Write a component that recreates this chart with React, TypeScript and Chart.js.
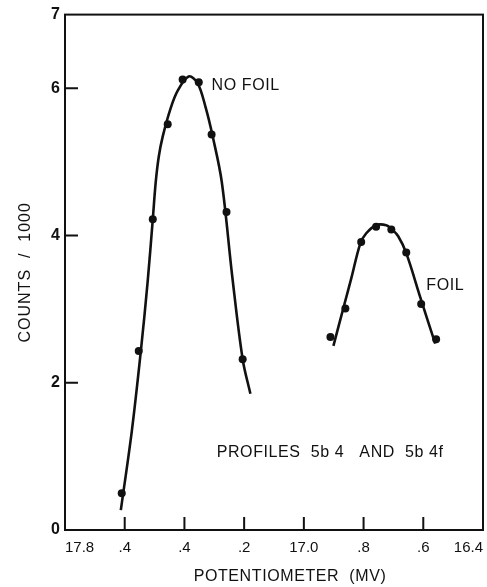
import React, { useEffect, useRef } from "react";
import { Chart, registerables } from "chart.js";

Chart.register(...registerables);

// Measured points (potentiometer mV, counts/1000)
const NO_FOIL_X = [17.61, 17.553, 17.506, 17.456, 17.406, 17.352, 17.309, 17.259, 17.205];
const NO_FOIL_Y = [0.5, 2.43, 4.22, 5.51, 6.12, 6.08, 5.37, 4.32, 2.32];
const FOIL_X = [16.911, 16.861, 16.808, 16.758, 16.707, 16.657, 16.607, 16.557];
const FOIL_Y = [2.62, 3.01, 3.91, 4.12, 4.08, 3.77, 3.07, 2.59];

// Hand-drawn fitted curves
const NO_FOIL_CURVE_X = [17.613, 17.576, 17.546, 17.523, 17.506, 17.496, 17.486, 17.473, 17.446, 17.422, 17.386, 17.356, 17.329, 17.305, 17.275, 17.24, 17.205, 17.179];
const NO_FOIL_CURVE_Y = [0.27, 1.35, 2.43, 3.38, 4.22, 4.73, 5.07, 5.34, 5.73, 5.97, 6.16, 6.07, 5.74, 5.34, 4.73, 3.45, 2.32, 1.85];
const FOIL_CURVE_X = [16.901, 16.864, 16.841, 16.811, 16.791, 16.758, 16.724, 16.707, 16.684, 16.657, 16.61, 16.56];
const FOIL_CURVE_Y = [2.5, 3.07, 3.42, 3.89, 4.03, 4.14, 4.14, 4.09, 3.99, 3.76, 3.16, 2.53];

// Axes
const X_TICK_VALUES = [17.8, 17.6, 17.4, 17.2, 17.0, 16.8, 16.6, 16.4];
const X_TICK_LABELS = ["17.8", ".4", ".4", ".2", "17.0", ".8", ".6", "16.4"];
const X_INNER_MARKS = [17.6, 17.4, 17.2, 17.0, 16.8, 16.6];
const Y_TICK_VALUES = [0, 2, 4, 6, 7];
const Y_TICK_LABELS = ["0", "2", "4", "6", "7"];
const Y_INNER_MARKS = [2, 4, 6];

const X_TITLE = "POTENTIOMETER  (MV)";
const Y_TITLE = "COUNTS  /  1000";
const LABEL_NO_FOIL = "NO FOIL";
const LABEL_FOIL = "FOIL";
const LABEL_PROFILES = "PROFILES  5b 4   AND  5b 4f";

const FONT = "'Liberation Sans', Arial, sans-serif";
const INK = "#111";

const zip = (xs: number[], ys: number[]) => xs.map((x, i) => ({ x, y: ys[i] }));

const decorPlugin = {
  id: "decor",
  afterDraw(chart: any) {
    const { ctx, chartArea: a, scales } = chart;
    const xs = scales.x;
    const ys = scales.y;
    ctx.save();
    ctx.strokeStyle = INK;
    ctx.lineWidth = 2;
    ctx.strokeRect(a.left, a.top, a.right - a.left, a.bottom - a.top);
    ctx.beginPath();
    for (const v of X_INNER_MARKS) {
      const px = xs.getPixelForValue(v);
      ctx.moveTo(px, a.bottom);
      ctx.lineTo(px, a.bottom - 13);
    }
    for (const v of Y_INNER_MARKS) {
      const py = ys.getPixelForValue(v);
      ctx.moveTo(a.left, py);
      ctx.lineTo(a.left + 13, py);
    }
    ctx.stroke();

    ctx.fillStyle = INK;
    ctx.textBaseline = "middle";
    (ctx as any).letterSpacing = "0.6px";
    ctx.font = `16px ${FONT}`;
    ctx.textAlign = "left";
    ctx.fillText(LABEL_NO_FOIL, xs.getPixelForValue(17.309), ys.getPixelForValue(6.04));
    ctx.fillText(LABEL_FOIL, xs.getPixelForValue(16.59), ys.getPixelForValue(3.32));
    ctx.fillText(LABEL_PROFILES, xs.getPixelForValue(17.292), ys.getPixelForValue(1.05));

    // axis titles
    (ctx as any).letterSpacing = "0.6px";
    ctx.font = `16px ${FONT}`;
    ctx.textAlign = "center";
    ctx.fillText(X_TITLE, 290, 577);
    (ctx as any).letterSpacing = "1px";
    ctx.translate(26, (a.top + a.bottom) / 2);
    ctx.rotate(-Math.PI / 2);
    ctx.fillText(Y_TITLE, 0, 0);
    ctx.restore();
  },
};

export default function App() {
  const ref = useRef<HTMLCanvasElement | null>(null);
  useEffect(() => {
    if (!ref.current) return;
    const pointStyle = {
      showLine: false,
      pointRadius: 4,
      pointBackgroundColor: INK,
      pointBorderColor: INK,
      pointBorderWidth: 0,
    };
    const lineStyle = {
      showLine: true,
      pointRadius: 0,
      borderColor: INK,
      borderWidth: 2.6,
      tension: 0.35,
      fill: false,
    };
    const chart = new Chart(ref.current, {
      type: "scatter",
      data: {
        datasets: [
          { label: "No foil curve", data: zip(NO_FOIL_CURVE_X, NO_FOIL_CURVE_Y), ...lineStyle },
          { label: "Foil curve", data: zip(FOIL_CURVE_X, FOIL_CURVE_Y), ...lineStyle },
          { label: "No foil", data: zip(NO_FOIL_X, NO_FOIL_Y), ...pointStyle },
          { label: "Foil", data: zip(FOIL_X, FOIL_Y), ...pointStyle },
        ],
      },
      options: {
        responsive: false,
        animation: false,
        layout: { padding: { top: 12, right: 2, left: 0, bottom: 0 } },
        plugins: { legend: { display: false }, tooltip: { enabled: false } },
        scales: {
          x: {
            type: "linear",
            reverse: true,
            min: 16.4,
            max: 17.8,
            grid: { display: false, drawTicks: false },
            border: { display: false },
            afterFit: (s: any) => {
              s.height = 57;
            },
            afterBuildTicks: (s: any) => {
              s.ticks = [...X_TICK_VALUES].sort((p, q) => p - q).map((v) => ({ value: v }));
            },
            ticks: {
              autoSkip: false,
              maxRotation: 0,
              align: "inner",
              padding: 9,
              color: INK,
              font: { family: FONT, size: 15 },
              callback: (v: any) => {
                const i = X_TICK_VALUES.findIndex((t) => Math.abs(t - Number(v)) < 1e-6);
                return i >= 0 ? X_TICK_LABELS[i] : "";
              },
            },
          },
          y: {
            type: "linear",
            min: 0,
            max: 7,
            grid: { display: false, drawTicks: false },
            border: { display: false },
            afterFit: (s: any) => {
              s.width = 65;
            },
            afterBuildTicks: (s: any) => {
              s.ticks = Y_TICK_VALUES.map((v) => ({ value: v }));
            },
            ticks: {
              autoSkip: false,
              padding: 5,
              color: INK,
              font: { family: FONT, size: 16, weight: "bold" },
              callback: (v: any) => {
                const i = Y_TICK_VALUES.findIndex((t) => Math.abs(t - Number(v)) < 1e-6);
                return i >= 0 ? Y_TICK_LABELS[i] : "";
              },
            },
          },
        },
      },
      plugins: [decorPlugin],
    });
    return () => chart.destroy();
  }, []);
  return (
    <div style={{ position: "fixed", left: 0, top: 0, width: 487, height: 587, background: "#fff" }}>
      <canvas ref={ref} width={487} height={587} style={{ width: 487, height: 587, display: "block" }} />
    </div>
  );
}
